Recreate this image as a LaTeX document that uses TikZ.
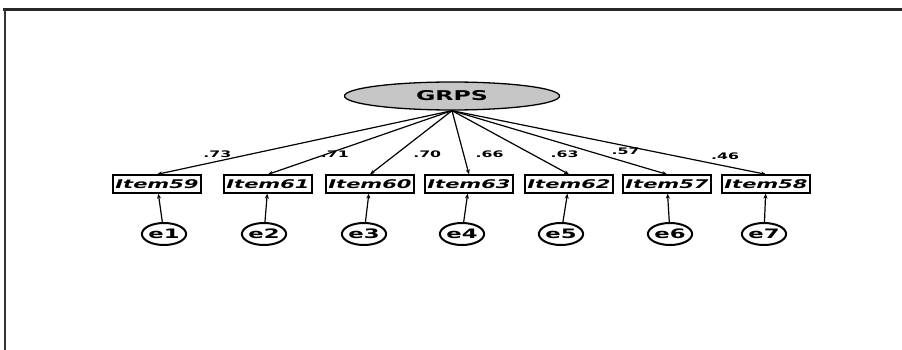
\documentclass[tikz,border=0pt]{standalone}
\usepackage{fontspec}
\setmainfont{DejaVu Sans}
\usetikzlibrary{shapes.geometric,arrows.meta}
\newcommand{\wide}[1]{\scalebox{1.75}[1]{#1}}
\begin{document}
\begin{tikzpicture}[x=1pt,y=-1pt,>={Stealth[length=5pt,width=4pt]},
        latent/.style={draw,line width=1.3pt,ellipse,fill=gray!45,minimum width=215pt,minimum height=28pt,inner sep=0pt,font=\bfseries\fontsize{13.5}{13.5}\selectfont},
        itembox/.style={draw,line width=1.3pt,minimum width=88pt,minimum height=18pt,inner sep=0pt,font=\bfseries\itshape\fontsize{12}{12}\selectfont},
        errnode/.style={draw,line width=2pt,ellipse,fill=white,minimum width=37pt,minimum height=22pt,inner sep=0pt,font=\bfseries\fontsize{13}{13}\selectfont},
        lbl/.style={font=\bfseries\fontsize{9}{9}\selectfont,inner sep=0pt}]
                \useasboundingbox (0,0) rectangle (902,350);
                \draw[line width=3pt,black!85] (3,9.5) -- (902,9.5);
                \draw[line width=2pt,black!80] (4.5,9.5) -- (4.5,350);
                \node[latent] (G) at (452,96) {\wide{GRPS}};
                \node[itembox] (I1) at (157,184) {\wide{Item59}};
                \node[itembox] (I2) at (268,184) {\wide{Item61}};
                \node[itembox] (I3) at (370,184) {\wide{Item60}};
                \node[itembox] (I4) at (469,184) {\wide{Item63}};
                \node[itembox] (I5) at (569,184) {\wide{Item62}};
                \node[itembox] (I6) at (667,184) {\wide{Item57}};
                \node[itembox] (I7) at (766,184) {\wide{Item58}};
                \node[errnode] (E1) at (164,234) {\wide{e1}};
                \node[errnode] (E2) at (264,234) {\wide{e2}};
                \node[errnode] (E3) at (364,234) {\wide{e3}};
                \node[errnode] (E4) at (462,234) {\wide{e4}};
                \node[errnode] (E5) at (561,234) {\wide{e5}};
                \node[errnode] (E6) at (670,234) {\wide{e6}};
                \node[errnode] (E7) at (764,234) {\wide{e7}};
                \draw[line width=1.2pt,->] (G.south) -- (I1.north) node[lbl,pos=0.68,xshift=-34pt] {\wide{.73}};
                \draw[line width=1.2pt,->] (G.south) -- (I2.north) node[lbl,pos=0.68,xshift=8pt] {\wide{.71}};
                \draw[line width=1.2pt,->] (G.south) -- (I3.north) node[lbl,pos=0.68,xshift=31pt] {\wide{.70}};
                \draw[line width=1.2pt,->] (G.south) -- (I4.north) node[lbl,pos=0.68,xshift=26pt] {\wide{.66}};
                \draw[line width=1.2pt,->] (G.south) -- (I5.north) node[lbl,pos=0.68,xshift=33pt] {\wide{.63}};
                \draw[line width=1.2pt,->] (G.south) -- (I6.north) node[lbl,pos=0.64,xshift=36pt] {\wide{.57}};
                \draw[line width=1.2pt,->] (G.south) -- (I7.north) node[lbl,pos=0.72,xshift=47pt] {\wide{.46}};
                \draw[line width=1.2pt,->] (E1) -- (I1);
                \draw[line width=1.2pt,->] (E2) -- (I2);
                \draw[line width=1.2pt,->] (E3) -- (I3);
                \draw[line width=1.2pt,->] (E4) -- (I4);
                \draw[line width=1.2pt,->] (E5) -- (I5);
                \draw[line width=1.2pt,->] (E6) -- (I6);
                \draw[line width=1.2pt,->] (E7) -- (I7);
            \end{tikzpicture}
\end{document}
